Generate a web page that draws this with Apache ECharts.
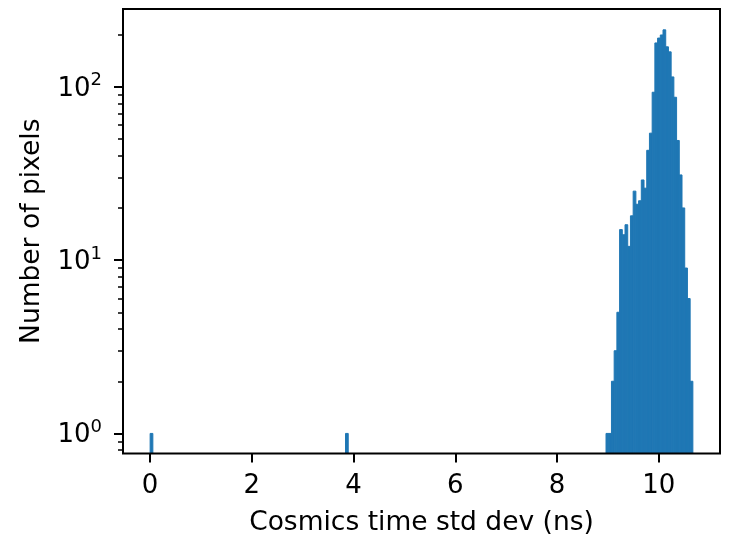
<!DOCTYPE html>
<html><head><meta charset="utf-8">
<script src="https://cdn.jsdelivr.net/npm/echarts@6/dist/echarts.min.js"></script>
<style>html,body{margin:0;padding:0;background:#fff}#c{width:729px;height:537px}</style>
</head><body><div id="c"></div>
<script>
// Histogram definition (200 bins over the data range)
const histMin = 0;
const histMax = 10.67;
const nBins = 200;
// Non-empty bins: index and count
const binIndex = [0, 72,
  168, 169, 170, 171, 172, 173, 174, 175, 176, 177, 178, 179, 180, 181, 182, 183,
  184, 185, 186, 187, 188, 189, 190, 191, 192, 193, 194, 195, 196, 197, 198, 199];
const counts = [1, 1,
  1, 1, 2, 3, 5, 15, 14, 16, 12, 18, 25, 21, 22, 29, 26, 43,
  54, 93, 179, 191, 199, 213, 170, 159, 114, 87, 49, 31, 20, 9, 6, 2];
const xTicks = [0, 2, 4, 6, 8, 10];
const yTicks = [1, 10, 100];
const yTickExp = ['0', '1', '2'];
const yMinorTicks = [0.8, 0.9, 2, 3, 4, 5, 6, 7, 8, 9, 20, 30, 40, 50, 60, 70, 80, 90, 200];

const xMin = -0.5335, xMax = 11.2035;
const yMin = 0.766, yMax = 281;
const FONT = 'DejaVu Sans';

const binW = (histMax - histMin) / nBins;
const data = binIndex.map((b, i) => [histMin + b * binW, histMin + (b + 1) * binW, counts[i]]);

const chart = echarts.init(document.getElementById('c'), null, {renderer: 'canvas'});
const yAxisBase = {
  type: 'log', logBase: 10, min: yMin, max: yMax, position: 'left', offset: 0,
  axisLine: {show: false, onZero: false}, splitLine: {show: false}, minorTick: {show: false}
};
chart.setOption({
  animation: false,
  backgroundColor: '#fff',
  grid: {left: 123, top: 9, width: 597, height: 444.5, show: true, containLabel: false,
         outerBoundsMode: 'none',
         borderColor: '#000', borderWidth: 2, backgroundColor: 'transparent', z: 5},
  xAxis: {
    type: 'value', min: xMin, max: xMax, z: 5, position: 'bottom',
    name: 'Cosmics time std dev (ns)', nameLocation: 'middle', nameGap: 56,
    nameTextStyle: {fontFamily: FONT, fontSize: 26.5, color: '#000'},
    axisLine: {show: false, onZero: false}, splitLine: {show: false},
    axisTick: {show: true, customValues: xTicks, length: 9, lineStyle: {color: '#000', width: 2}},
    axisLabel: {customValues: xTicks, margin: 20, fontFamily: FONT, fontSize: 26, color: '#000',
                formatter: v => String(v)}
  },
  yAxis: [
    Object.assign({}, yAxisBase, {
      z: 5,
      name: 'Number of pixels', nameLocation: 'middle', nameGap: 77, nameRotate: 90,
      nameTextStyle: {fontFamily: FONT, fontSize: 26.5, color: '#000'},
      axisTick: {show: true, customValues: yTicks, length: 9, lineStyle: {color: '#000', width: 2}},
      axisLabel: {
        customValues: yTicks, margin: 21, color: '#000',
        formatter: v => '{b|10}{s|' + yTickExp[yTicks.indexOf(Math.round(v))] + '}',
        rich: {
          b: {fontFamily: FONT, fontSize: 26, lineHeight: 30, color: '#000', verticalAlign: 'bottom'},
          s: {fontFamily: FONT, fontSize: 18, lineHeight: 18, color: '#000', verticalAlign: 'top'}
        }
      }
    }),
    Object.assign({}, yAxisBase, {
      z: 5,
      axisTick: {show: true, customValues: yMinorTicks, length: 5, lineStyle: {color: '#000', width: 1.5}},
      axisLabel: {show: false}
    })
  ],
  series: [{
    type: 'custom', xAxisIndex: 0, yAxisIndex: 0, clip: true, z: 1,
    data: data,
    encode: {x: [0, 1], y: 2},
    renderItem: (params, api) => {
      const p0 = api.coord([api.value(0), api.value(2)]);
      const p1 = api.coord([api.value(1), yMin]);
      return {type: 'rect',
        shape: {x: p0[0], y: p0[1], width: p1[0] - p0[0], height: p1[1] - p0[1]},
        style: {fill: '#1f77b4', stroke: '#1f77b4', lineWidth: 1}};
    }
  }]
});
</script></body></html>
